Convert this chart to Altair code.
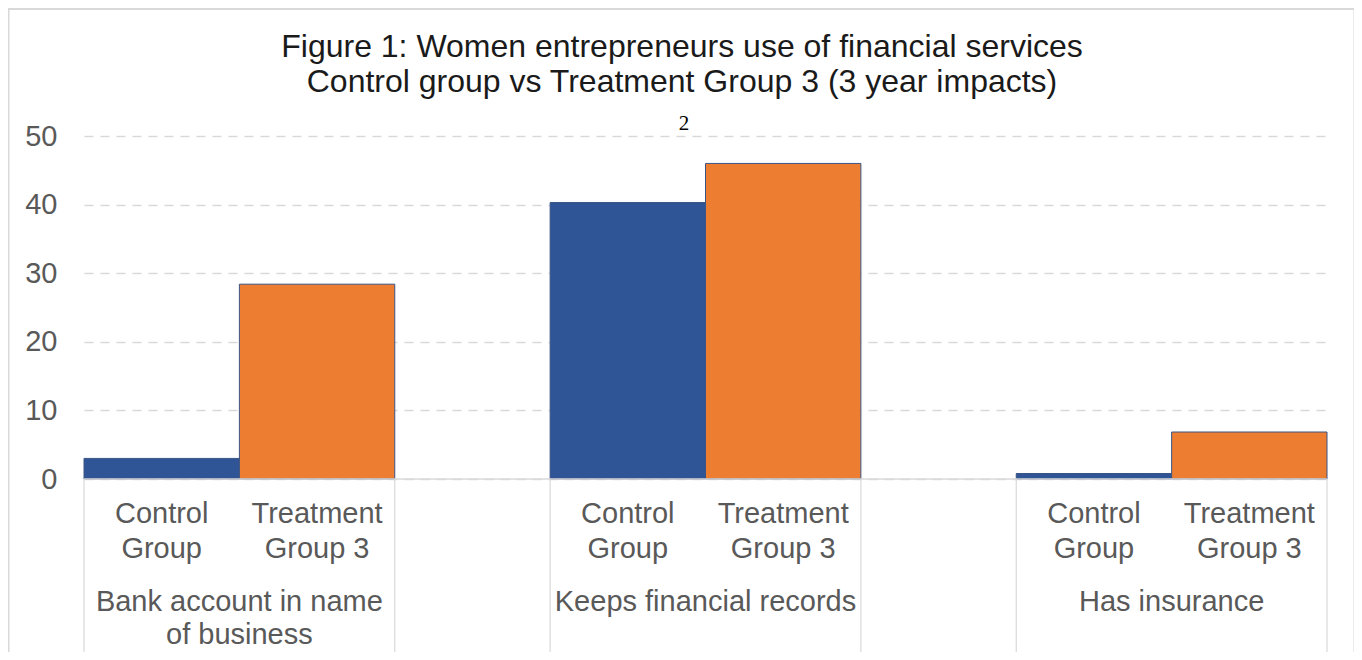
import altair as alt
import pandas as pd

# ---- data ----
categories = ["Bank account in name\nof business", "Keeps financial records", "Has insurance"]
groups = ["Control Group", "Treatment Group 3"]
group_labels = ["Control\nGroup", "Treatment\nGroup 3"]
control = [3.0, 40.3, 0.8]
treatment = [28.4, 46.0, 6.85]
y_ticks = [0, 10, 20, 30, 40, 50]
title_lines = ["Figure 1: Women entrepreneurs use of financial services",
               "Control group vs Treatment Group 3 (3 year impacts)"]
footnote_mark = "2"

BLUE = "#2F5597"
ORANGE = "#ED7D31"
GRID = "#D9D9D9"
LABEL = "#595959"
FONT = "Liberation Sans"

W, H = 1243, 343

rows = []
for i, cat in enumerate(categories):
    for j, (g, gl) in enumerate(zip(groups, group_labels)):
        v = control[i] if j == 0 else treatment[i]
        x0 = 3 * i + j
        rows.append({"category": cat, "group": g, "glabel": gl, "value": v,
                     "x0": x0, "x1": x0 + 1, "xm": x0 + 0.5})
bars_df = pd.DataFrame(rows)

cat_df = pd.DataFrame({"category": categories,
                       "xc": [3 * i + 1 for i in range(len(categories))]})
sep_df = pd.DataFrame({"xs": sorted([3 * i for i in range(len(categories))] +
                                    [3 * i + 2 for i in range(len(categories))])})
one = pd.DataFrame({"k": [0]})

xscale = alt.Scale(domain=[0, 8], nice=False, zero=False, padding=0)
yscale = alt.Scale(domain=[0, 50], nice=False, padding=0)

bars = alt.Chart(bars_df).mark_bar(stroke="#3A5584", strokeWidth=1).encode(
    x=alt.X("x0:Q", scale=xscale, axis=None),
    x2="x1:Q",
    y=alt.Y("value:Q", scale=yscale,
            axis=alt.Axis(values=y_ticks, title=None, domain=False, ticks=False,
                          labelFontSize=29, labelColor=LABEL, labelFont=FONT,
                          labelPadding=27, grid=True, gridColor=GRID,
                          gridDash=[9, 7], gridWidth=1.5)),
    y2=alt.datum(0),
    color=alt.Color("group:N", scale=alt.Scale(domain=groups, range=[BLUE, ORANGE]),
                    legend=None),
)

zero_line = alt.Chart(one).mark_rule(color=GRID, strokeWidth=1.5).encode(
    y=alt.datum(0, scale=yscale),
    x=alt.value(0),
    x2=alt.value(W),
)

seps = alt.Chart(sep_df).mark_rule(color=GRID, strokeWidth=1.2).encode(
    x=alt.X("xs:Q", scale=xscale),
    y=alt.value(H),
    y2=alt.value(520),
)

glabels = alt.Chart(bars_df).mark_text(
    font=FONT, fontSize=29, color=LABEL, lineBreak="\n", lineHeight=35,
    baseline="alphabetic", align="center",
).encode(x=alt.X("xm:Q", scale=xscale), y=alt.value(387), text="glabel:N")

clabels = alt.Chart(cat_df).mark_text(
    font=FONT, fontSize=29, color=LABEL, lineBreak="\n", lineHeight=33,
    baseline="alphabetic", align="center",
).encode(x=alt.X("xc:Q", scale=xscale), y=alt.value(475), text="category:N")

title = alt.Chart(one).mark_text(
    font=FONT, fontSize=32, color="#1A1A1A", lineHeight=35,
    baseline="alphabetic", align="center", text=title_lines,
).encode(x=alt.value(598), y=alt.value(-79))

footnote = alt.Chart(one).mark_text(
    font="Liberation Serif", fontSize=21, color="#000000",
    baseline="alphabetic", align="center", text=footnote_mark,
).encode(x=alt.value(600), y=alt.value(-6))

frame = alt.Chart(one).mark_rect(fillOpacity=0, stroke=GRID, strokeWidth=2).encode(
    x=alt.value(-75.5), x2=alt.value(1270.5), y=alt.value(-127), y2=alt.value(560),
)

chart = alt.layer(frame, bars, zero_line, seps, glabels, clabels, title, footnote).properties(
    width=W, height=H,
    background="white",
    autosize=alt.AutoSizeParams(type="none"),
    padding={"left": 76, "top": 128, "right": 27, "bottom": 173},
).configure_view(stroke="transparent", strokeWidth=0)

chart.save("out.html", embed_options={"renderer": "svg", "actions": False})
